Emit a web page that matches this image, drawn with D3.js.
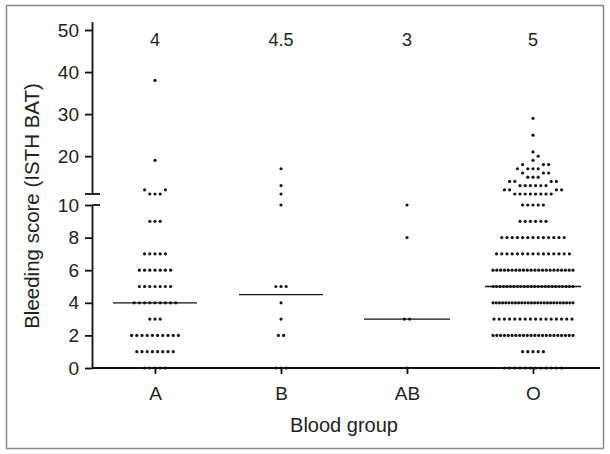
<!DOCTYPE html>
<html>
<head>
<meta charset="utf-8">
<script src="https://cdn.jsdelivr.net/npm/d3@7"></script>
<style>
  body { margin: 0; background: #fff; }
  svg text { font-family: "Liberation Sans", Arial, sans-serif; fill: #222; }
</style>
</head>
<body>
<div id="chart"></div>
<script>
// blood groups on the x axis
var groups = ["A", "B", "AB", "O"];

// bleeding scores and how many patients sit at each score
var scoresA = [0, 1, 2, 3, 4, 5, 6, 7, 9, 11, 12, 19, 38];
var countsA = [5, 8, 10, 3, 9, 7, 7, 5, 3, 3, 2, 1, 1];
var scoresB = [0, 2, 3, 4, 5, 10, 11, 13, 17];
var countsB = [3, 2, 1, 1, 3, 1, 1, 1, 1];
var scoresAB = [0, 3, 8, 10];
var countsAB = [1, 2, 1, 1];
var scoresO = [0, 1, 2, 3, 4, 5, 6, 7, 8, 9, 10, 11, 12, 13, 14, 15, 16, 17, 18, 19, 20, 21, 25, 29];
var countsO = [12, 5, 22, 16, 26, 24, 22, 15, 13, 6, 5, 8, 4, 6, 4, 3, 3, 4, 3, 1, 1, 1, 1, 1];

var yTicksLow = [0, 2, 4, 6, 8, 10];
var yTicksHigh = [20, 30, 40, 50];

var width = 610, height = 454;
var axisX = 92;
var dotStep = 5.2, maxRow = 80;
var medianHalf = {A: 42, B: 42, AB: 43, O: 48};

var svg = d3.select("#chart").append("svg")
  .attr("width", width)
  .attr("height", height);

// frame
svg.append("rect")
  .attr("x", 6.5).attr("y", 5.5)
  .attr("width", 597).attr("height", 443)
  .attr("fill", "none")
  .attr("stroke", "#8a8a8a")
  .attr("stroke-width", 1.5);

var x = d3.scalePoint().domain(groups).range([axisX, 596]).padding(0.5);
// broken axis: 0-10 below, 11-52 above
var yLow = d3.scaleLinear().domain([0, 10]).range([368, 205]);
var yHigh = d3.scaleLinear().domain([11, 52]).range([194, 21.6]);
function y(v) { return v <= 10 ? yLow(v) : yHigh(v); }

// lay the dots out row by row, swarm them where rows get close
function place(scores, counts) {
  var pts = [];
  function clash(p) {
    return pts.some(function(q) { return Math.hypot(q.dx - p.dx, q.y - p.y) < dotStep * 0.97; });
  }
  scores.forEach(function(v, k) {
    var n = counts[k], yy = y(v);
    var gap = dotStep;
    if ((n - 1) * gap > maxRow) gap = maxRow / (n - 1);
    var row = d3.range(n).map(function(i) { return {v: v, y: yy, dx: (i - (n - 1) / 2) * gap}; });
    if (!row.some(clash)) { pts = pts.concat(row); return; }
    row.forEach(function(p) {
      for (var j = 0; ; j++) {
        p.dx = j === 0 ? 0 : (j % 2 ? 1 : -1) * Math.ceil(j / 2) * dotStep / 2;
        if (!clash(p)) break;
      }
      pts.push(p);
    });
  });
  return pts;
}

var data = [
  {g: "A", scores: scoresA, counts: countsA},
  {g: "B", scores: scoresB, counts: countsB},
  {g: "AB", scores: scoresAB, counts: countsAB},
  {g: "O", scores: scoresO, counts: countsO}
];
data.forEach(function(d) {
  d.pts = place(d.scores, d.counts);
  d.median = d3.median(d.pts, function(p) { return p.v; });
});

// y axes
var gLow = svg.append("g")
  .attr("transform", "translate(" + axisX + ",0)")
  .call(d3.axisLeft(yLow).tickValues(yTicksLow).tickSize(7).tickSizeOuter(0).tickPadding(6));
var gHigh = svg.append("g")
  .attr("transform", "translate(" + axisX + ",0)")
  .call(d3.axisLeft(yHigh).tickValues(yTicksHigh).tickSize(7).tickSizeOuter(0).tickPadding(6));
[gLow, gHigh].forEach(function(g) {
  g.selectAll("path, line").attr("stroke", "#111").attr("stroke-width", 1.8);
  g.selectAll("text").style("font-size", "19px").attr("fill", "#222");
});
// break caps
svg.append("line")
  .attr("x1", axisX - 7).attr("x2", axisX + 8)
  .attr("y1", yHigh(11)).attr("y2", yHigh(11))
  .attr("stroke", "#111").attr("stroke-width", 1.8);
svg.append("line")
  .attr("x1", axisX).attr("x2", axisX + 8)
  .attr("y1", yLow(10)).attr("y2", yLow(10))
  .attr("stroke", "#111").attr("stroke-width", 1.8);

// x axis
var gx = svg.append("g")
  .attr("transform", "translate(0," + yLow(0) + ")")
  .call(d3.axisBottom(x).tickSize(6).tickSizeOuter(0).tickPadding(13));
gx.select(".domain").attr("d", "M" + axisX + ",0H600");
gx.selectAll("path, line").attr("stroke", "#111").attr("stroke-width", 1.8);
gx.selectAll("text").style("font-size", "19px").attr("fill", "#222");

// medians
svg.append("g").selectAll("line")
  .data(data).enter().append("line")
  .attr("x1", function(d) { return x(d.g) - medianHalf[d.g]; })
  .attr("x2", function(d) { return x(d.g) + medianHalf[d.g]; })
  .attr("y1", function(d) { return y(d.median); })
  .attr("y2", function(d) { return y(d.median); })
  .attr("stroke", "#111")
  .attr("stroke-width", 1.3);

svg.append("g").selectAll("text")
  .data(data).enter().append("text")
  .attr("x", function(d) { return x(d.g); })
  .attr("y", 46)
  .attr("text-anchor", "middle")
  .style("font-size", "18px")
  .text(function(d) { return d.median; });

// dots
data.forEach(function(d) {
  svg.append("g").selectAll("circle")
    .data(d.pts).enter().append("circle")
    .attr("cx", function(p) { return x(d.g) + p.dx; })
    .attr("cy", function(p) { return p.y; })
    .attr("r", 1.6)
    .attr("fill", "#151515");
});

// titles
svg.append("text")
  .attr("transform", "translate(39," + 206 + ") rotate(-90)")
  .attr("text-anchor", "middle")
  .style("font-size", "20.5px")
  .text("Bleeding score (ISTH BAT)");
svg.append("text")
  .attr("x", x("B") + (x("AB") - x("B")) / 2)
  .attr("y", 432)
  .attr("text-anchor", "middle")
  .style("font-size", "20px")
  .text("Blood group");
</script>
</body>
</html>
